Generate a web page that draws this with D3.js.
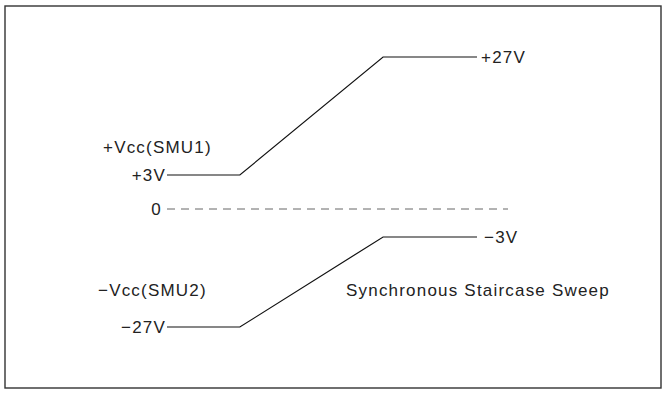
<!DOCTYPE html>
<html><head><meta charset="utf-8">
<script src="https://cdn.jsdelivr.net/npm/d3@7"></script>
<style>
html,body{margin:0;padding:0;background:#fff;}
text{font-family:"Liberation Sans",Arial,sans-serif;fill:#222;}
</style></head>
<body><svg id="c" width="663" height="397"></svg>
<script>
// Voltage levels (schematic, non-linear vertical placement)
const levels = [27, 3, 0, -3, -27];
// time steps of the sweep (percent of the sweep width)
const steps = [0, 23.5, 69.7, 100];
// SMU1: +3V -> +27V
const smu1 = [3, 3, 27, 27];
// SMU2: -27V -> -3V
const smu2 = [-27, -27, -3, -3];
const zeroLine = [0, 110];
const seriesLabels = ["+Vcc(SMU1)", "\u2212Vcc(SMU2)"];
const startLabels = ["+3V", "\u221227V"];
const endLabels = ["+27V", "\u22123V"];
const zeroLabel = "0";
const title = "Synchronous Staircase Sweep";

const svg = d3.select("#c");
const x = d3.scaleLinear().domain([0, 100]).range([167, 477]);
const y = d3.scaleLinear().domain(levels).range([57, 175, 209, 237, 327]);

svg.append("rect").attr("x", 5).attr("y", 6).attr("width", 656).attr("height", 382)
  .attr("fill", "none").attr("stroke", "#333").attr("stroke-width", 1.4);

const line = d3.line().x(d => x(d[0])).y(d => y(d[1]));

[smu1, smu2].forEach(s => {
  svg.append("path").datum(steps.map((t, i) => [t, s[i]]))
    .attr("d", line).attr("fill", "none").attr("stroke", "#111").attr("stroke-width", 1.2);
});

svg.append("path").datum(zeroLine.map(t => [t, 0]))
  .attr("d", line).attr("fill", "none").attr("stroke", "#666").attr("stroke-width", 1)
  .attr("stroke-dasharray", "8,6");

const fs = 17;
function label(txt, xx, yy, anchor) {
  svg.append("text").attr("x", xx).attr("y", yy).attr("dy", "0.36em")
    .attr("text-anchor", anchor).attr("font-size", fs).attr("letter-spacing", 1.2)
    .text(txt);
}
label(seriesLabels[0], 103, y(3) - 28, "start");
label(seriesLabels[1], 98, 290, "start");
label(startLabels[0], x(0) - 1, y(smu1[0]), "end");
label(startLabels[1], x(0) - 1, y(smu2[0]), "end");
label(endLabels[0], x(100) + 4, y(smu1[3]), "start");
label(endLabels[1], x(100) + 7, y(smu2[3]), "start");
label(zeroLabel, x(0) - 5, y(0), "end");
label(title, 346, 290, "start");
</script></body></html>
